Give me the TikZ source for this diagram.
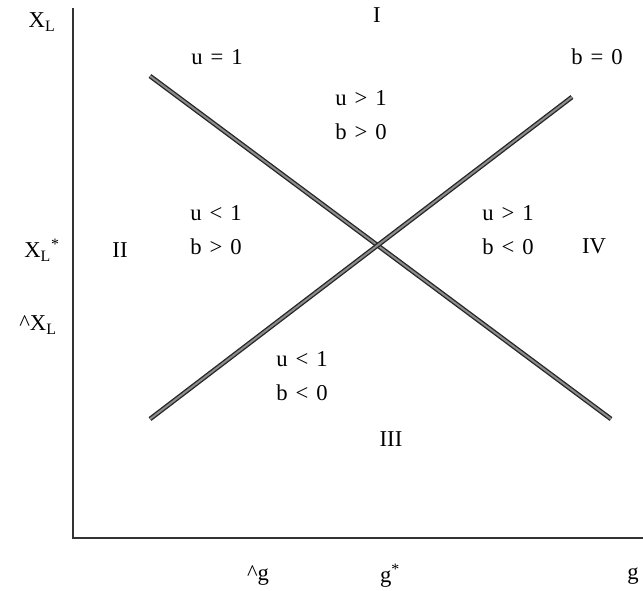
\documentclass[tikz,border=0pt]{standalone}
\usepackage{fontspec}
\setmainfont{Liberation Serif}
\newcommand{\relgap}{\hspace{6pt}}
\begin{document}
\begin{tikzpicture}[x=0.75pt,y=-0.75pt,
  lbl/.style={font=\fontsize{17}{26}\selectfont, align=center, inner sep=0pt},
  axis/.style={line width=2.2pt, draw=black!80},
  curve/.style={line width=1pt, draw=black!85, double=black!45, double distance=1.5pt}]
\useasboundingbox (0,0) rectangle (643,590);
% axes
\coordinate (ytop) at (73,8);
\coordinate (origin) at (73,538);
\coordinate (xend) at (643,538);
\draw[axis] (ytop) -- (origin) -- (xend);
% the two schedules
\coordinate (u1a) at (150,76);
\coordinate (u1b) at (611,419);
\coordinate (b0a) at (150,419);
\coordinate (b0b) at (572,97);
\draw[curve] (u1a) -- (u1b);
\draw[curve] (b0a) -- (b0b);
% axis labels
\node[lbl] (xl) at (42,22) {X\textsubscript{L}};
\node[lbl] (xlstar) at (42,250) {X\textsubscript{L}\textsuperscript{*}};
\node[lbl] (xlhat) at (38,325) {\textasciicircum X\textsubscript{L}};
\node[lbl] (ghat) at (258,576) {\textasciicircum g};
\node[lbl] (gstar) at (390,576) {g\textsuperscript{*}};
\node[lbl] (g) at (633,576) {g};
% schedule labels
\node[lbl] (ulab) at (217,57) {u\relgap=\relgap1};
\node[lbl] (blab) at (597,57) {b\relgap=\relgap0};
% regions
\node[lbl] (rI) at (377,15) {I};
\node[lbl] (rII) at (120,250) {II};
\node[lbl] (rIII) at (391,439) {III};
\node[lbl] (rIV) at (594,246) {IV};
\node[lbl] (cI) at (361,115) {u\relgap>\relgap1\\b\relgap>\relgap0};
\node[lbl] (cII) at (216,230) {u\relgap<\relgap1\\b\relgap>\relgap0};
\node[lbl] (cIV) at (508,230) {u\relgap>\relgap1\\b\relgap<\relgap0};
\node[lbl] (cIII) at (302,376) {u\relgap<\relgap1\\b\relgap<\relgap0};
\end{tikzpicture}
\end{document}
